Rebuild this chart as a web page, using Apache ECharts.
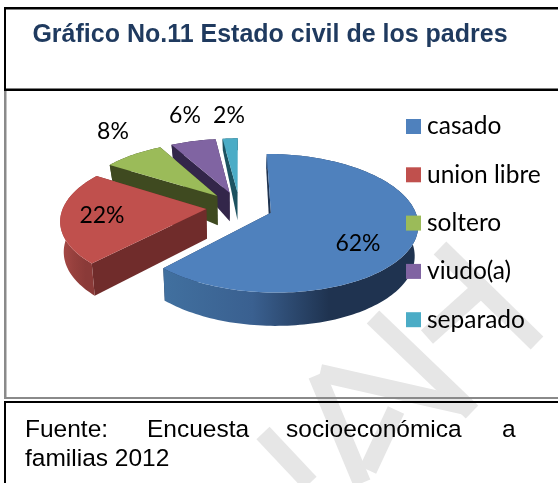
<!DOCTYPE html>
<html><head><meta charset="utf-8">
<style>html,body{margin:0;padding:0;background:#fff}#c{width:558px;height:483px}</style>
<script src="https://cdn.jsdelivr.net/npm/echarts@6/dist/echarts.min.js"></script>
</head><body><div id="c"></div>
<script>
const categories = ['casado', 'union libre', 'soltero', 'viudo(a)', 'separado'];
const values = [62, 22, 8, 6, 2];
const titleText = 'Gráfico No.11 Estado civil de los padres';
const sourceLine1 = ['Fuente:', 'Encuesta', 'socioeconómica', 'a'];
const sourceLine2 = 'familias 2012';

// styles & layout
const topColors = ['#4f81bd', '#c0504d', '#9bbb59', '#8064a2', '#4bacc6'];
const faceColors = ['#1f3350', '#702c2b', '#3f4a20', '#33264a', '#1c5260'];
const wallStops = [['#41709f', '#3a6090', '#1f3350', '#1f3350'], ['#a84a47', '#96403d', '#8a3a38', '#8a3a38'], ['#3f4a20', '#3f4a20', '#3f4a20', '#3f4a20'], ['#33264a', '#33264a', '#33264a', '#33264a'], ['#1c5260', '#1c5260', '#1c5260', '#1c5260']];
const labelAnchors = [[358, 244], [102, 216], [113, 132], [185, 116], [229, 116]];
const P = {cx: 239.5, cy: 207, A: 143, B: 66, k: 0.15, explode: 0.233, shrink: 0.98};

const total = values.reduce((a, b) => a + b, 0);
function project(x, y) {
  const s = 1 / (1 - P.k * y);
  return [P.cx + P.A * x * s, P.cy + P.B * y * s];
}
function depthAt(y) {
  if (y >= -0.2) return 29 + 4 * (y + 0.2) / 1.2;
  if (y >= -0.7) return 16 + 13 * (y + 0.7) / 0.5;
  return Math.max(12, 16 - 3 * (-0.7 - y) / 0.4);
}
function world(theta, r, ox, oy) { return [ox + r * Math.sin(theta), oy - r * Math.cos(theta)]; }
function topPt(w) { return project(w[0], w[1]); }
function botPt(w) {
  const p = project(w[0], w[1]);
  return [P.cx + (p[0] - P.cx) * P.shrink, p[1] + depthAt(w[1])];
}
function sliceGroup(i) {
  let cum = 0;
  for (let j = 0; j < i; j++) cum += values[j];
  const t1 = cum / total * 2 * Math.PI, t2 = (cum + values[i]) / total * 2 * Math.PI;
  const mid = (t1 + t2) / 2;
  const ox = P.explode * Math.sin(mid), oy = -P.explode * Math.cos(mid);
  const n = Math.max(8, Math.round((t2 - t1) * 40));
  const arc = [];
  for (let q = 0; q <= n; q++) arc.push(world(t1 + (t2 - t1) * q / n, 1, ox, oy));
  const apex = [ox, oy];
  const kids = [];
  const face = (a, b) => ({type: 'polygon', shape: {points: [topPt(a), topPt(b), botPt(b), botPt(a)]}, style: {fill: faceColors[i]}});
  kids.push(face(apex, arc[arc.length - 1]));
  kids.push(face(apex, arc[0]));
  const wall = arc.map(topPt).concat(arc.slice().reverse().map(botPt));
  const st = wallStops[i];
  kids.push({type: 'polygon', shape: {points: wall}, style: {fill: new echarts.graphic.LinearGradient(0, 0, 1, 0, [
    {offset: 0, color: st[0]}, {offset: 0.35, color: st[1]}, {offset: 0.65, color: st[2]}, {offset: 1, color: st[3]}])}});
  kids.push({type: 'polygon', shape: {points: [topPt(apex)].concat(arc.map(topPt))}, style: {fill: topColors[i]}});
  kids.push({type: 'text', z2: 50, style: {text: values[i] + '%', x: labelAnchors[i][0], y: labelAnchors[i][1], align: 'center', verticalAlign: 'middle', font: '23px Lato', fill: '#000'}});
  return {type: 'group', children: kids};
}
const order = [4, 3, 2, 1, 0];
const series = order.map((i, idx) => ({
  type: 'custom', coordinateSystem: 'none', name: categories[i], z: 10 + idx, silent: true, animation: false,
  itemStyle: {color: topColors[i]},
  data: [[values[i]]],
  renderItem: () => sliceGroup(i)
}));

const bands = [
  [[440, 248], [537, 343]], [[373, 317], [472, 412]], [[427, 337], [487, 283]],
  [[320, 373], [470, 407]], [[317, 375], [362, 483]], [[368, 470], [396, 410]],
  [[263, 433], [310, 483]]
];
const wm = bands.map(b => ({type: 'line', silent: true, z: 1, shape: {x1: b[0][0], y1: b[0][1], x2: b[1][0], y2: b[1][1]}, style: {stroke: '#e6e6e6', lineWidth: 18}}));
const rect = (x, y, w, h, fill, z) => ({type: 'rect', silent: true, z: z || 2, shape: {x, y, width: w, height: h}, style: {fill}});
const txt = (t, x, y, font, fill, align) => ({type: 'text', silent: true, z: 60, style: {text: t, x, y, font, fill, align: align || 'left', verticalAlign: 'middle'}});
const srcFont = '24.5px "Liberation Sans"';
const graphics = wm.concat([
  rect(4, 7, 554, 2.5, '#000'), rect(4, 88.5, 554, 2.5, '#000'), rect(4, 7, 2, 84, '#000'),
  rect(4, 91, 2.5, 307, '#8a8a8a'), rect(4, 397, 554, 2, '#8a8a8a'),
  rect(4, 401, 554, 2, '#000'), rect(4, 401, 2, 82, '#000'),
  txt(titleText, 270, 35, 'bold 25px "Liberation Sans"', '#1f3a5f', 'center'),
  txt(sourceLine1[0], 25, 430, srcFont, '#000'),
  txt(sourceLine1[1], 147, 430, srcFont, '#000'),
  txt(sourceLine1[2], 286, 430, srcFont, '#000'),
  txt(sourceLine1[3], 502, 430, srcFont, '#000'),
  txt(sourceLine2, 25, 459, srcFont, '#000')
]);
const chart = echarts.init(document.getElementById('c'), null, {renderer: 'canvas'});
chart.setOption({
  animation: false, backgroundColor: '#fff',
  legend: {z: 100, orient: 'vertical', left: 406, top: 114, data: categories, icon: 'rect', itemWidth: 15, itemHeight: 15, itemGap: 23.3, selectedMode: false, padding: 0,
    textStyle: {fontFamily: 'Lato', fontSize: 24.5, color: '#000', padding: [0, 0, 0, 1]}},
  graphic: {elements: graphics},
  series
});
</script></body></html>
